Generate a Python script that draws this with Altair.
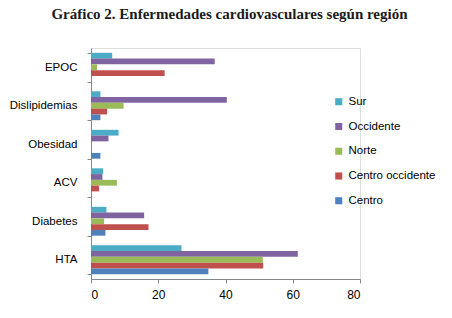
import altair as alt
import pandas as pd

categories = ["EPOC", "Dislipidemias", "Obesidad", "ACV", "Diabetes", "HTA"]
regions = ["Sur", "Occidente", "Norte", "Centro occidente", "Centro"]
colors = ["#4BACC6", "#8064A2", "#9BBB59", "#C0504D", "#4F81BD"]

sur = [6.3, 2.8, 8.2, 3.6, 4.6, 26.9]
occidente = [36.8, 40.4, 5.2, 3.4, 15.8, 61.5]
norte = [1.8, 9.7, 0.0, 7.7, 3.9, 51.1]
centro_occidente = [21.9, 4.8, 0.0, 2.4, 17.1, 51.2]
centro = [0.0, 2.8, 2.8, 0.0, 4.3, 34.9]

series = [sur, occidente, norte, centro_occidente, centro]
rows = []
for r, vals in zip(regions, series):
    for c, v in zip(categories, vals):
        rows.append({"Enfermedad": c, "Región": r, "Valor": v})
df = pd.DataFrame(rows)

font = "Liberation Sans"

chart = alt.Chart(df).mark_bar().encode(
    y=alt.Y("Enfermedad:N", sort=categories,
            scale=alt.Scale(paddingInner=0.25, paddingOuter=0.125),
            axis=alt.Axis(title=None, tickBand="extent", labelFontSize=11.5,
                          labelFont=font, labelColor="#000000", domainColor="#868686",
                          tickColor="#868686", tickSize=4, labelPadding=10)),
    yOffset=alt.YOffset("Región:N", sort=regions, scale=alt.Scale(paddingInner=0, paddingOuter=0)),
    x=alt.X("Valor:Q", scale=alt.Scale(domain=[0, 80]),
            axis=alt.Axis(title=None, values=[0, 20, 40, 60, 80], grid=False,
                          labelFontSize=12, labelFont=font, labelColor="#000000",
                          domainColor="#868686", tickColor="#868686", tickSize=4,
                          labelPadding=6)),
    color=alt.Color("Región:N", sort=regions,
                    scale=alt.Scale(domain=regions, range=colors),
                    legend=alt.Legend(title=None, orient="none", legendX=242, legendY=48,
                                      symbolType="square", symbolSize=50,
                                      symbolStrokeWidth=0, labelFontSize=11.5,
                                      labelFont=font, labelColor="#000000",
                                      rowPadding=11.75)),
).properties(
    width=269, height=231,
    padding={"left": 91, "top": 48, "right": 92, "bottom": 39},
    autosize=alt.AutoSizeParams(type="none"),
    title=alt.Title("Gráfico 2. Enfermedades cardiovasculares según región",
                    font="Liberation Serif", fontSize=15, fontWeight="bold",
                    color="#1a1a1a", anchor="middle", offset=20, dx=4),
).configure_view(stroke=None).configure(background="white")

chart.save("out.html", embed_options={"renderer": "svg", "actions": False})
